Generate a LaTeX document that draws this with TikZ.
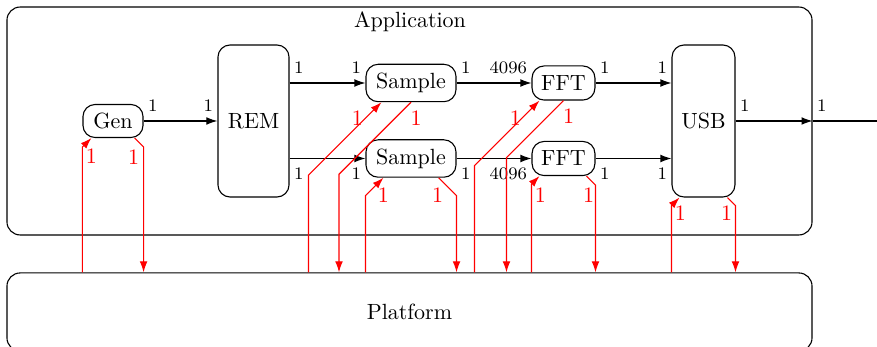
\documentclass[tikz,border=0pt]{standalone}
\usetikzlibrary{calc,arrows.meta}
\begin{document}
\begin{tikzpicture}[x=0.4545pt,y=-0.4545pt,
  box/.style={draw,rounded corners=5.5pt,inner sep=0pt,line width=0.5pt},
  blk/.style={-{Latex[length=5pt,width=3.5pt]},line width=0.5pt},
  rd/.style={red,-{Latex[length=5pt,width=3.5pt]},line width=0.5pt},
  pl/.style={font=\footnotesize,inner xsep=1.8pt,inner ysep=4pt},
  rl/.style={red,inner sep=0pt}]
\clip (0,0) rectangle (877,347);
% containers
\node[box,rounded corners=6pt,minimum width=365.9pt,minimum height=103.6pt] (app) at (409.5,121) {};
\node (apptitle) at (410,22) {Application};
\node[box,rounded corners=6pt,minimum width=365.9pt,minimum height=35.5pt] (plat) at (409.5,312) {Platform};
% actors
\node[box,minimum width=27.3pt,minimum height=15pt] (gen) at (113,121) {Gen};
\node[box,minimum width=32.3pt,minimum height=69.1pt] (rem) at (253.5,121) {REM};
\node[box,minimum width=40.9pt,minimum height=17pt] (s1) at (411,83) {Sample};
\node[box,minimum width=40.9pt,minimum height=17pt] (s2) at (411,158.5) {Sample};
\node[box,minimum width=28.6pt,minimum height=15.5pt] (f1) at (563.5,83) {FFT};
\node[box,minimum width=28.6pt,minimum height=15.5pt] (f2) at (563.5,158.5) {FFT};
\node[box,minimum width=28.6pt,minimum height=69.1pt] (usb) at (703.5,121) {USB};
\coordinate (out) at (877,121);
% black connectors
\draw[blk] (gen.east) -- (rem.west)
  node[pl,pos=0,anchor=south west]{1} node[pl,pos=1,anchor=south east]{1};
\draw[blk] (rem.east |- s1.west) -- (s1.west)
  node[pl,pos=0,anchor=south west]{1} node[pl,pos=1,anchor=south east]{1};
\draw[blk] (rem.east |- s2.west) -- (s2.west)
  node[pl,pos=0,anchor=north west]{1} node[pl,pos=1,anchor=north east]{1};
\draw[blk] (s1.east) -- (f1.west)
  node[pl,pos=0,anchor=south west]{1} node[pl,pos=1,anchor=south east]{4096};
\draw[blk] (s2.east) -- (f2.west)
  node[pl,pos=0,anchor=north west]{1} node[pl,pos=1,anchor=north east]{4096};
\draw[blk] (f1.east) -- (usb.west |- f1.east)
  node[pl,pos=0,anchor=south west]{1} node[pl,pos=1,anchor=south east]{1};
\draw[blk] (f2.east) -- (usb.west |- f2.east)
  node[pl,pos=0,anchor=north west]{1} node[pl,pos=1,anchor=north east]{1};
\draw[blk] (usb.east) -- (app.east |- usb.east)
  node[pl,pos=0,anchor=south west]{1} node[pl,pos=1,anchor=south west]{1};
\draw[line width=0.5pt] (app.east |- usb.east) -- (out);
% bends of platform connectors
\coordinate (gib) at ($(gen.south west)+(0,9)$);
\coordinate (gob) at ($(gen.south east)+(0,9)$);
\coordinate (s1ib) at ($(s1.south west)+(-57,73)$);
\coordinate (s1ob) at ($(s1.south)+(-72,72)$);
\coordinate (s2ib) at ($(s2.south west)+(0,18)$);
\coordinate (s2ob) at ($(s2.south east)+(0,18)$);
\coordinate (f1ib) at ($(f1.south west)+(-57,65)$);
\coordinate (f1ob) at ($(f1.south)+(-57,57)$);
\coordinate (f2ib) at ($(f2.south west)+(0,8)$);
\coordinate (f2ob) at ($(f2.south east)+(0,9)$);
\coordinate (uib) at ($(usb.south west)+(0,8)$);
\coordinate (uob) at ($(usb.south east)+(0,8)$);
% red platform connectors
\draw[rd] (plat.north -| gib) -- (gib) -- ($(gen.south west)+(9,0)$)
  node[rl,at={($(gen.south west)+(9,18)$)}]{1};
\draw[rd] ($(gen.south east)+(-9,0)$) -- (gob) -- (plat.north -| gob)
  node[rl,at={($(gen.south east)+(-10,19)$)}]{1};
\draw[rd] (plat.north -| s1ib) -- (s1ib) -- ($(s1.south west)+(16,0)$)
  node[rl,at={($(s1.south west)+(-8,16)$)}]{1};
\draw[rd] (s1.south) -- (s1ob) -- (plat.north -| s1ob)
  node[rl,at={($(s1.south)+(5,16)$)}]{1};
\draw[rd] (plat.north -| s2ib) -- (s2ib) -- ($(s2.south west)+(18,0)$)
  node[rl,at={($(s2.south west)+(18,17)$)}]{1};
\draw[rd] ($(s2.south east)+(-18,0)$) -- (s2ob) -- (plat.north -| s2ob)
  node[rl,at={($(s2.south east)+(-19,17)$)}]{1};
\draw[rd] (plat.north -| f1ib) -- (f1ib) -- ($(f1.south west)+(8,0)$)
  node[rl,at={($(f1.south west)+(-16,18)$)}]{1};
\draw[rd] (f1.south) -- (f1ob) -- (plat.north -| f1ob)
  node[rl,at={($(f1.south)+(5,16)$)}]{1};
\draw[rd] (plat.north -| f2ib) -- (f2ib) -- ($(f2.south west)+(8,0)$)
  node[rl,at={($(f2.south west)+(9,19)$)}]{1};
\draw[rd] ($(f2.south east)+(-9,0)$) -- (f2ob) -- (plat.north -| f2ob)
  node[rl,at={($(f2.south east)+(-7,19)$)}]{1};
\draw[rd] (plat.north -| uib) -- (uib) -- ($(usb.south west)+(8,0)$)
  node[rl,at={($(usb.south west)+(9,16)$)}]{1};
\draw[rd] ($(usb.south east)+(-8,0)$) -- (uob) -- (plat.north -| uob)
  node[rl,at={($(usb.south east)+(-9,16)$)}]{1};
\end{tikzpicture}
\end{document}
